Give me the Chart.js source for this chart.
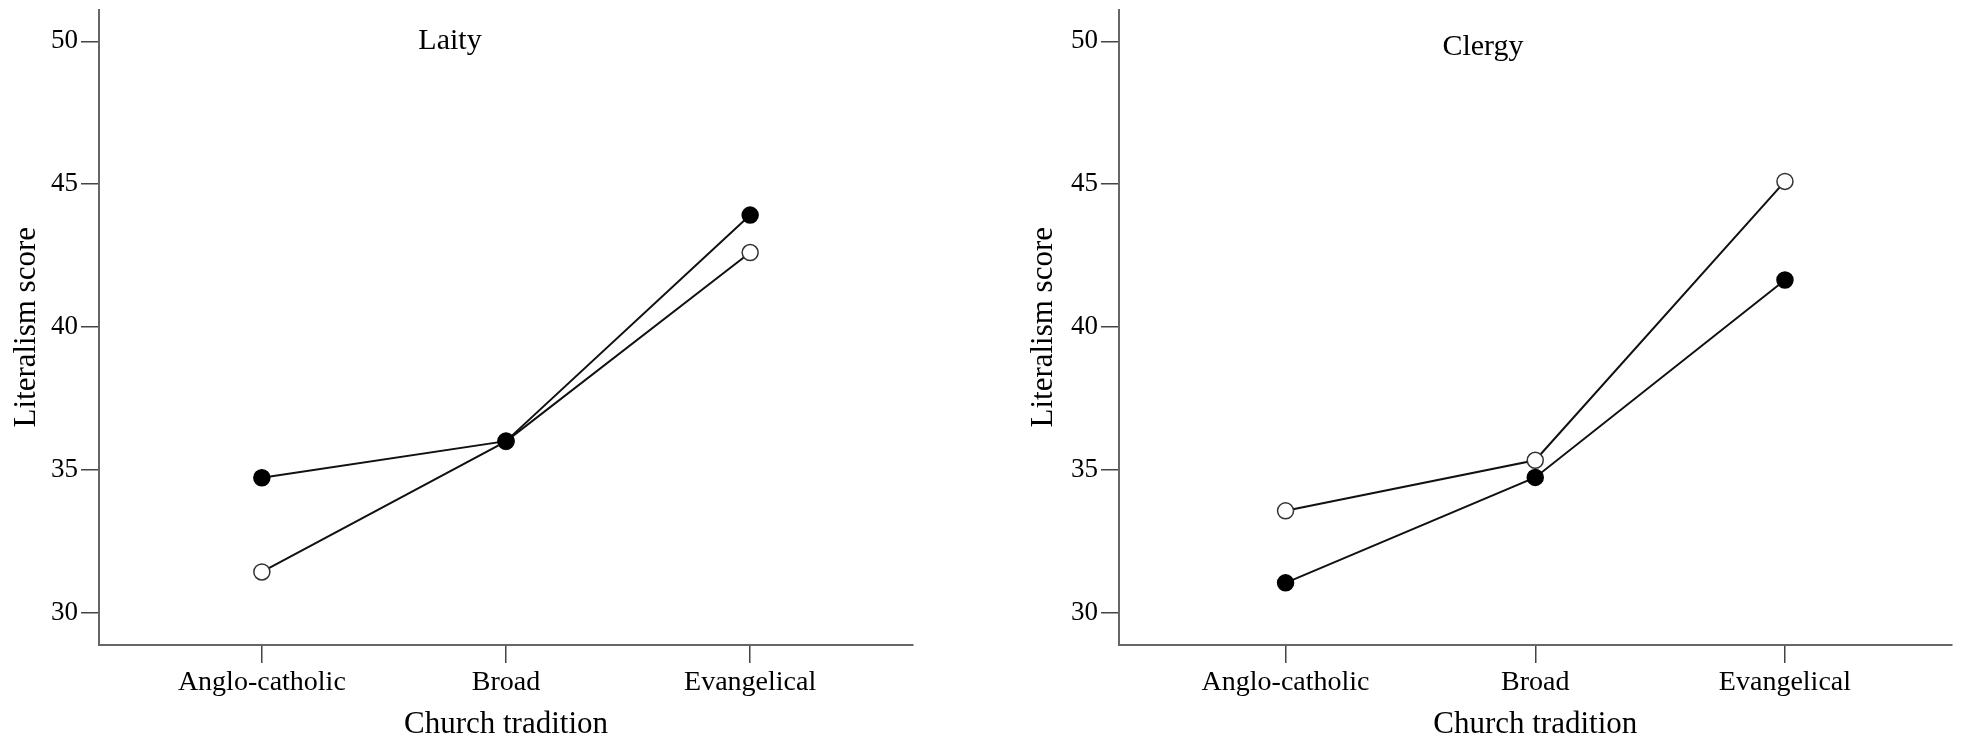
<!DOCTYPE html>
<html>
<head>
<meta charset="utf-8">
<title>Literalism score by church tradition</title>
<script src="https://cdn.jsdelivr.net/npm/chart.js@4.4.1/dist/chart.umd.min.js"></script>
<style>
  html, body { margin: 0; padding: 0; background: #fff; }
  #wrap { position: relative; width: 1961px; height: 743px; overflow: hidden; }
  canvas { position: absolute; top: 0; }
  #laity { left: 0; }
  #clergy { left: 980px; }
</style>
</head>
<body>
<div id="wrap">
  <canvas id="laity" width="980" height="743"></canvas>
  <canvas id="clergy" width="981" height="743"></canvas>
</div>
<script>
// Values
const categories = ['Anglo-catholic', 'Broad', 'Evangelical'];
const yTicks = [30, 35, 40, 45, 50];
const panelTitles = ['Laity', 'Clergy'];

const laityFilled = [34.73, 36.01, 43.92];
const laityOpen = [31.43, 36.0, 42.61];
const clergyFilled = [31.05, 34.74, 41.65];
const clergyOpen = [33.57, 35.34, 45.10];

const serif = '"Liberation Serif", "Times New Roman", Times, serif';

// draws the panel label inside the plot
const panelLabel = {
  id: 'panelLabel',
  afterDraw(chart, args, opts) {
    const ctx = chart.ctx;
    ctx.save();
    ctx.font = '30px ' + serif;
    ctx.fillStyle = '#000';
    ctx.textAlign = 'center';
    ctx.textBaseline = 'middle';
    ctx.fillText(opts.text, opts.x, opts.y);
    ctx.restore();
  }
};

function toPoints(values) {
  return values.map((v, i) => ({ x: i, y: v }));
}

function makePanel(id, title, filled, open, yAxisWidth, yTitlePad, rightPad, titleX, titleY) {
  const ctx = document.getElementById(id).getContext('2d');
  return new Chart(ctx, {
    type: 'line',
    data: {
      datasets: [
        {
          label: 'filled',
          data: toPoints(filled),
          borderColor: '#111',
          borderWidth: 2,
          pointRadius: 8,
          pointBackgroundColor: '#000',
          pointBorderColor: '#000',
          pointBorderWidth: 1.5,
          tension: 0
        },
        {
          label: 'open',
          data: toPoints(open),
          borderColor: '#111',
          borderWidth: 2,
          pointRadius: 8,
          pointBackgroundColor: '#fff',
          pointBorderColor: '#333',
          pointBorderWidth: 1.5,
          tension: 0
        }
      ]
    },
    options: {
      responsive: false,
      animation: false,
      devicePixelRatio: 1,
      layout: { padding: { left: 0, top: 7, right: rightPad, bottom: 0 } },
      plugins: {
        legend: { display: false },
        tooltip: { enabled: false },
        panelLabel: { text: title, x: titleX, y: titleY }
      },
      scales: {
        x: {
          type: 'linear',
          min: -0.667,
          max: 2.667,
          afterBuildTicks: s => { s.ticks = categories.map((c, i) => ({ value: i })); },
          afterFit: s => {
            s.height = 98;
            s.paddingLeft = 0; s.paddingRight = 0; s.paddingTop = 0; s.paddingBottom = 0;
          },
          ticks: {
            callback: v => categories[v],
            color: '#000',
            font: { family: serif, size: 28 },
            padding: 3,
            maxRotation: 0,
            autoSkip: false
          },
          grid: { drawOnChartArea: false, drawTicks: true, tickLength: 18, color: '#444', lineWidth: 1.5 },
          border: { display: true, color: '#666', width: 2 },
          title: {
            display: true,
            text: 'Church tradition',
            color: '#000',
            font: { family: serif, size: 31 },
            padding: { top: 0, bottom: 0 }
          }
        },
        y: {
          min: 28.875,
          max: 51.115,
          afterBuildTicks: s => { s.ticks = yTicks.map(v => ({ value: v })); },
          afterFit: s => {
            s.width = yAxisWidth;
            s.paddingLeft = 0; s.paddingRight = 0; s.paddingTop = 0; s.paddingBottom = 0;
          },
          ticks: {
            color: '#000',
            font: { family: serif, size: 27 },
            padding: 3
          },
          grid: { drawOnChartArea: false, drawTicks: true, tickLength: 18, color: '#444', lineWidth: 1.5 },
          border: { display: true, color: '#666', width: 2 },
          title: {
            display: true,
            text: 'Literalism score',
            color: '#000',
            font: { family: serif, size: 31 },
            padding: { top: yTitlePad, bottom: 0 }
          }
        }
      }
    },
    plugins: [panelLabel]
  });
}

makePanel('laity', panelTitles[0], laityFilled, laityOpen, 99, 8.4, 67, 450, 41);
makePanel('clergy', panelTitles[1], clergyFilled, clergyOpen, 139, 45.4, 6, 503, 47);
</script>
</body>
</html>
